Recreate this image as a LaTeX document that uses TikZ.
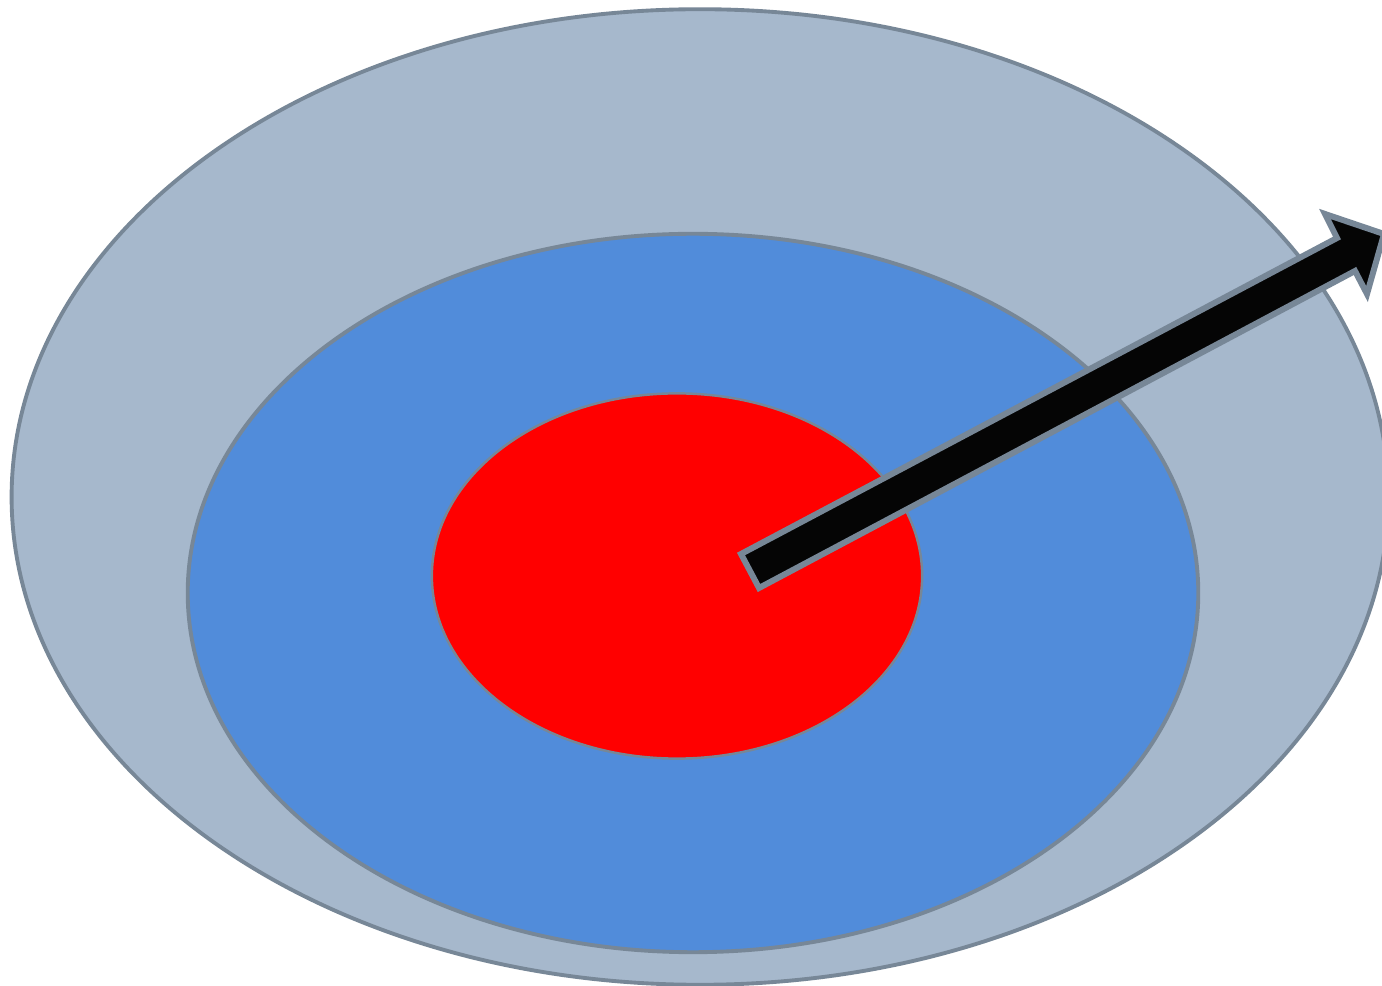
\documentclass[tikz,border=0pt]{standalone}
\usetikzlibrary{shapes.geometric}
\definecolor{edgegray}{HTML}{778797}
\definecolor{outerfill}{HTML}{A6B8CC}
\definecolor{midfill}{HTML}{518CDA}
\definecolor{corefill}{HTML}{FF0000}
\definecolor{arrowfill}{HTML}{050505}
\tikzset{
  ring/.style={ellipse, draw=edgegray, line width=1.1pt, inner sep=0pt},
  pointer/.style={draw=edgegray, fill=arrowfill, line width=1.7pt, line join=miter}
}
\begin{document}
\begin{tikzpicture}[x=0.01cm,y=-0.01cm]
\useasboundingbox (0,0) rectangle (1382,986);
\fill[white] (0,0) rectangle (1382,986);
\clip (0,0) rectangle (1382,986);
\node[ring, fill=outerfill, minimum width=13.76cm, minimum height=9.75cm] (outer) at (700,497) {};
\node[ring, fill=midfill, minimum width=10.10cm, minimum height=7.18cm] (middle) at (693,593) {};
\node[ring, fill=corefill, line width=0.7pt, minimum width=4.90cm, minimum height=3.65cm] (core) at (677,576) {};
\coordinate (tailtop) at (741,554);
\coordinate (tailbot) at (759,588);
\coordinate (necktop) at (1337,238);
\coordinate (neckbot) at (1355,271);
\coordinate (barbtop) at (1325,214);
\coordinate (barbbot) at (1367,294);
\coordinate (tip) at (1384,234);
\draw[pointer] (tailtop) -- (necktop) -- (barbtop) -- (tip) -- (barbbot) -- (neckbot) -- (tailbot) -- cycle;
\end{tikzpicture}
\end{document}
